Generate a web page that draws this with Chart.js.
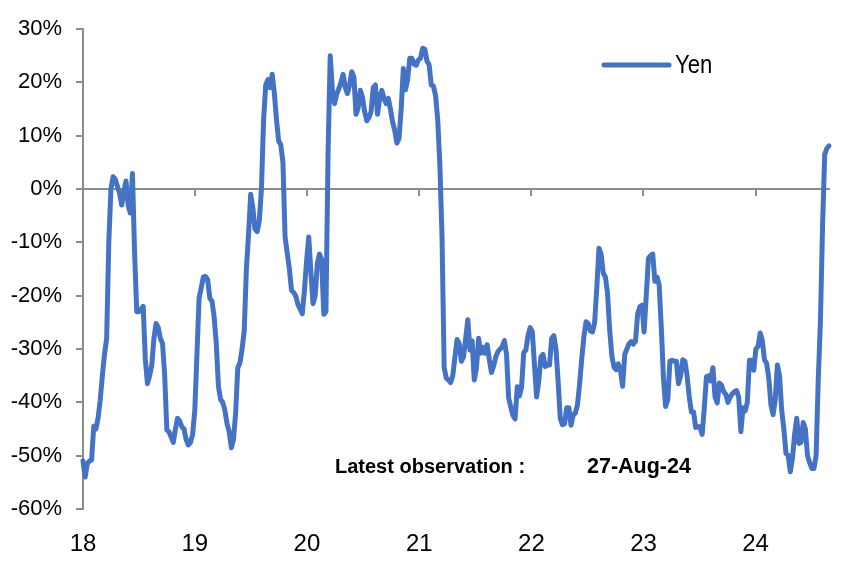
<!DOCTYPE html>
<html>
<head>
<meta charset="utf-8">
<script src="https://cdn.jsdelivr.net/npm/chart.js@4"></script>
<style>
  html, body { margin: 0; padding: 0; background: #fff; }
  #wrap { width: 852px; height: 572px; }
</style>
</head>
<body>
<div id="wrap"><canvas id="yenChart" width="852" height="572"></canvas></div>
<script>
// weekly observations, first one 2-Jan-2018, last one 27-Aug-2024 (%)
const startDate = new Date(2018, 0, 2);
const endDate = new Date(2024, 7, 27);
const yen = [
  -51, -54, -51.5, -51, -50.8, -44.5, -45, -43, -39.6, -35,
  -31, -28, -10, 0, 2.3, 1.8, 0.5, -0.8, -3, -0.5,
  1.5, -3, -4.5, 2.9, -12, -23, -23, -22.5, -22, -32,
  -36.5, -35, -33, -28, -25.2, -26, -28, -29, -35, -45.2,
  -45.5, -46.5, -47.5, -45, -43, -43.5, -44.6, -45, -47, -48,
  -47.5, -46, -41.5, -31, -20.5, -18.5, -16.5, -16.4, -17, -20.5,
  -21, -24, -29, -37, -39.5, -40, -41.5, -44, -45.5, -48.5,
  -47, -42, -33.5, -32.6, -30, -26.6, -15, -8.5, -1, -3.5,
  -7.5, -8, -6, 0, 13, 19.5, 20.5, 19, 21.5, 18,
  13, 9, 8.3, 5, -9, -12, -15, -19, -19.4, -20.1,
  -21.7, -22.5, -23.4, -19, -13.5, -9, -15.5, -21.5, -20, -14,
  -12.2, -13.2, -23.5, -23, 7, 25, 18.5, 16, 17.8, 18.8,
  20, 21.5, 19, 17.9, 19.5, 22, 21, 14, 15.2, 18.5,
  17.2, 14.5, 12.8, 13.4, 14.5, 19, 19.5, 14, 17, 18.5,
  17, 16, 17, 15, 12.6, 11, 8.6, 9.5, 15, 22.6,
  18.6, 20.5, 24.5, 24.5, 23.4, 23.2, 24.2, 24.5, 26.4, 26.2,
  24, 23.3, 19.5, 19.3, 17.5, 13, 4.5, -9, -33.5, -35.5,
  -35.8, -36.3, -35, -31.5, -28.2, -29, -32.3, -31.5, -28, -24.5,
  -30.2, -28.5, -35.8, -33.6, -28, -30.8, -29.7, -30.8, -29.2, -32,
  -34.4, -33.2, -31.5, -30.5, -30, -29.6, -28.4, -31, -39.2, -40.9,
  -42.5, -43.1, -37.1, -38.8, -37.2, -30.7, -30.2, -27.5, -26, -26.8,
  -33, -39, -36, -31.5, -31, -33.3, -33, -33, -28, -27.5,
  -30, -36, -43, -44.2, -44, -41, -41, -44.3, -42.4, -42,
  -40.5, -36.5, -31.8, -27.7, -24.9, -25.2, -26.6, -26.8, -25, -18.5,
  -11.1, -12.2, -15.8, -16.5, -19.6, -26.5, -31.3, -33.4, -33.9, -32.8,
  -34, -37, -31, -30, -29, -28.6, -29.1, -28.5, -23.4, -22.1,
  -21.8, -26.8, -20, -13, -12.5, -12.2, -17.3, -16.5, -18, -26,
  -35.5, -40.8, -39.5, -32.3, -32.1, -32.3, -32.3, -36.5, -35, -32,
  -32.3, -35, -39, -41.8, -41.8, -44.7, -44.6, -44.6, -46, -41,
  -35.2, -35, -36, -33.5, -39, -40.1, -36.4, -36.8, -38, -38.5,
  -40, -39, -38.4, -38, -37.8, -39, -45.5, -41, -41.6, -40,
  -32.1, -32.1, -34, -30, -29.5, -27, -28.5, -32, -32.7, -35.5,
  -40.5, -42.3, -39.5, -33, -35, -41.5, -45, -49.6, -49.9, -53,
  -50.5, -46, -43, -47.7, -47.5, -43.8, -45, -50, -51.3, -52.4,
  -52.4, -50, -35.8, -25, -7, 6.5, 7.6, 8.1
];
const yearLabels = ['18', '19', '20', '21', '22', '23', '24'];
const yTicks = [30, 20, 10, 0, -10, -20, -30, -40, -50, -60];

const DAY = 86400000;
const dayOf = d => Math.round((d - startDate) / DAY);
const yearTicks = yearLabels.map((y, i) => i === 0 ? 0 : dayOf(new Date(2000 + Number(y), 0, 1)));
const points = yen.map((v, i) => ({ x: i * 7, y: v }));
const lastDay = dayOf(endDate);

const BLUE = '#4472C4';
const AXIS = '#8c8c8c';
const FONT = '"Liberation Sans", Arial, sans-serif';

const setYearTicks = scale => {
  scale.ticks = yearTicks.map(v => ({ value: v }));
};

const overlay = {
  id: 'overlay',
  afterDraw(chart) {
    const ctx = chart.ctx;
    ctx.save();
    // legend
    ctx.strokeStyle = BLUE;
    ctx.lineWidth = 5;
    ctx.lineCap = 'round';
    ctx.beginPath();
    ctx.moveTo(604, 65);
    ctx.lineTo(669, 65);
    ctx.stroke();
    ctx.fillStyle = '#000';
    ctx.textBaseline = 'middle';
    ctx.save();
    ctx.translate(675, 66);
    ctx.scale(0.85, 1);
    ctx.font = '26px ' + FONT;
    ctx.fillText('Yen', 0, 0);
    ctx.restore();
    // note
    ctx.font = 'bold 20px ' + FONT;
    ctx.fillText('Latest observation :', 335, 467);
    ctx.font = 'bold 21.5px ' + FONT;
    ctx.fillText('27-Aug-24', 587, 467);
    ctx.restore();
  }
};

new Chart(document.getElementById('yenChart').getContext('2d'), {
  type: 'line',
  data: {
    datasets: [{
      label: 'Yen',
      data: points,
      borderColor: BLUE,
      backgroundColor: BLUE,
      borderWidth: 5,
      pointRadius: 0,
      tension: 0,
      clip: false,
      borderJoinStyle: 'round',
      borderCapStyle: 'round'
    }]
  },
  options: {
    responsive: false,
    animation: false,
    layout: { padding: { top: 29, right: 23, left: 0, bottom: 0 } },
    plugins: {
      legend: { display: false },
      tooltip: { enabled: false }
    },
    scales: {
      x: {
        type: 'linear',
        position: 'bottom',
        min: 0,
        max: lastDay,
        afterBuildTicks: setYearTicks,
        afterFit: s => { s.height = 63; },
        grid: { display: false },
        border: { display: false },
        ticks: {
          padding: 13,
          maxRotation: 0,
          autoSkip: false,
          color: '#000',
          font: { family: FONT, size: 24 },
          callback: (v, i) => yearLabels[i]
        }
      },
      x0: {
        type: 'linear',
        position: { y: 0 },
        min: 0,
        max: lastDay,
        afterBuildTicks: setYearTicks,
        grid: { drawOnChartArea: false, tickLength: 6, tickColor: AXIS, lineWidth: 2 },
        border: { display: true, color: AXIS, width: 2 },
        ticks: { display: false }
      },
      y: {
        min: -60,
        max: 30,
        afterBuildTicks: s => { s.ticks = yTicks.map(v => ({ value: v })); },
        afterFit: s => { s.width = 83; },
        grid: { drawOnChartArea: false, tickLength: 7, tickColor: AXIS, lineWidth: 2 },
        border: { display: true, color: AXIS, width: 2 },
        ticks: {
          padding: 14,
          color: '#000',
          font: { family: FONT, size: 22 },
          callback: v => v + '%'
        }
      }
    }
  },
  plugins: [overlay]
});
</script>
</body>
</html>
